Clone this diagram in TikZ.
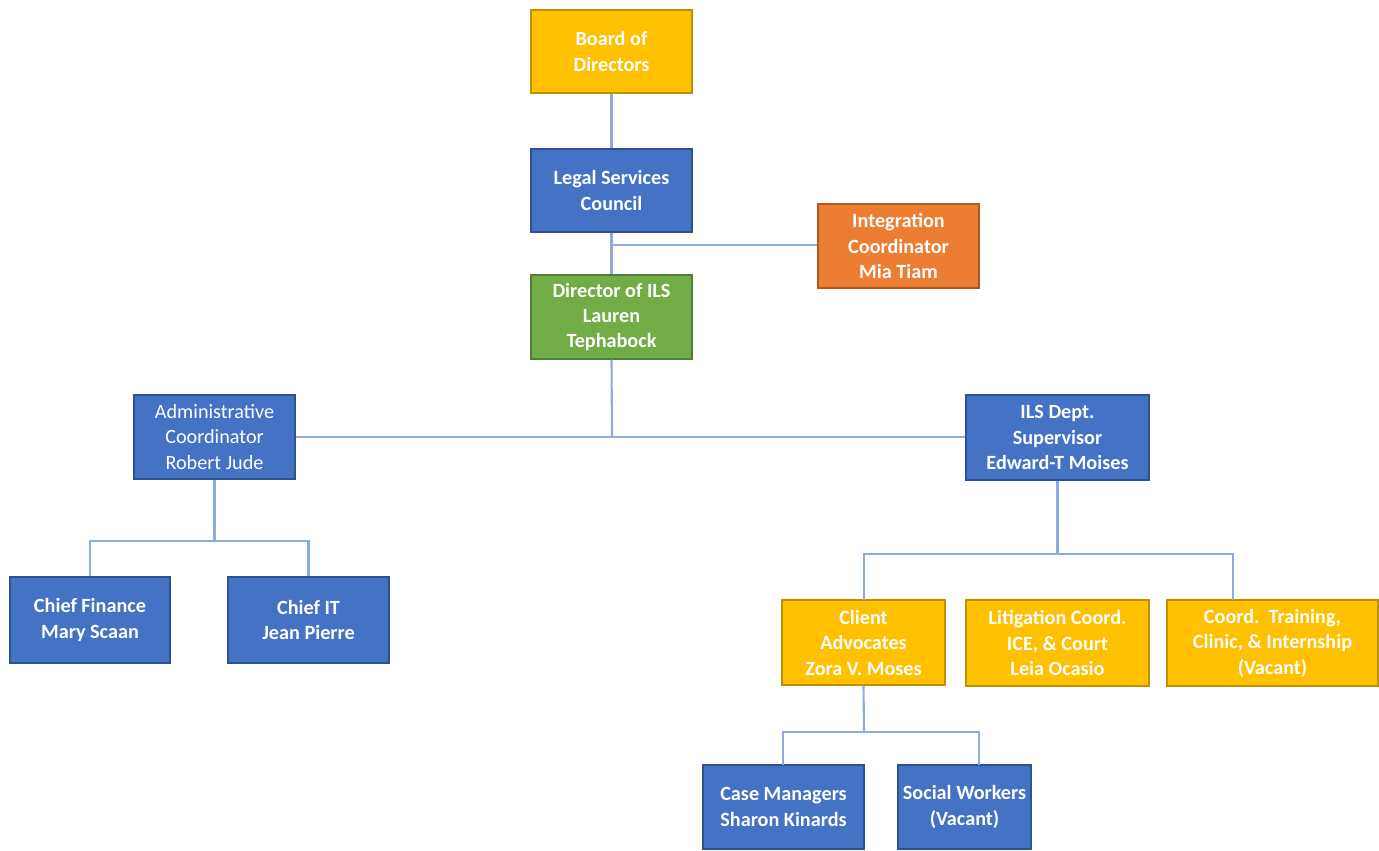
\documentclass[tikz,border=0pt]{standalone}
\usepackage{fontspec}
\setmainfont{Carlito}
\definecolor{cblue}{HTML}{4472C4}
\definecolor{cblueb}{HTML}{2F528F}
\definecolor{cgold}{HTML}{FFC000}
\definecolor{cgoldb}{HTML}{BF9000}
\definecolor{corange}{HTML}{ED7D31}
\definecolor{corangeb}{HTML}{AE5A21}
\definecolor{cgreen}{HTML}{70AD47}
\definecolor{cgreenb}{HTML}{507E32}
\definecolor{cline}{HTML}{8FAADC}
\begin{document}
\begin{tikzpicture}[x=0.02cm,y=-0.02cm,
  box/.style={draw, line width=0.8pt, text=white, align=center, inner sep=0pt,
    font=\fontsize{11.5}{14.5}\selectfont\bfseries},
  bluebox/.style={box, fill=cblue, draw=cblueb},
  goldbox/.style={box, fill=cgold, draw=cgoldb},
  orangebox/.style={box, fill=corange, draw=corangeb},
  greenbox/.style={box, fill=cgreen, draw=cgreenb},
  link/.style={draw=cline, line width=1.2pt}]
\useasboundingbox (0,0) rectangle (1379,850);
\newcommand{\bx}[6]{\node[#1, minimum width={(#4-#3)*0.02cm}, minimum height={(#6-#5)*0.02cm}] (#2) at ({(#3+#4)/2},{(#5+#6)/2})}
\bx{goldbox}{board}{531}{692}{10}{93} {Board of\\Directors};
\bx{bluebox}{lsc}{531}{692}{149}{232} {Legal Services\\Council};
\bx{orangebox}{integ}{818}{979}{204}{288} {Integration\\Coordinator\\Mia Tiam};
\bx{greenbox}{dir}{531}{692}{275}{359} {Director of ILS\\Lauren\\Tephabock};
\bx{bluebox,font=\fontsize{11.5}{14.5}\selectfont}{admin}{134}{295}{395}{479} {Administrative\\Coordinator\\Robert Jude};
\bx{bluebox}{ils}{966}{1149}{395}{480} {ILS Dept.\\Supervisor\\Edward-T Moises};
\bx{bluebox}{fin}{10}{170}{577}{663} {Chief Finance\\Mary Scaan};
\bx{bluebox}{it}{228}{389}{577}{663} {Chief IT\\Jean Pierre};
\bx{goldbox}{client}{782}{945}{600}{685} {Client\\Advocates\\Zora V. Moses};
\bx{goldbox}{litig}{966}{1149}{600}{686} {Litigation Coord.\\ICE, \& Court\\Leia Ocasio};
\bx{goldbox}{train}{1167}{1378}{600}{686} {Coord.\ \ Training,\\Clinic, \& Internship\\(Vacant)};
\bx{bluebox}{case}{703}{864}{765}{849} {Case Managers\\Sharon Kinards};
\bx{bluebox}{social}{898}{1031}{765}{849} {Social Workers\\(Vacant)};
% junction coordinates
\coordinate (j1) at (612,245);
\coordinate (j2) at (612,437);
\coordinate (j3) at (215,541);
\coordinate (j4) at (1060,554);
\coordinate (j5) at (864,732);
\draw[link] (board.south) -- (lsc.north);
\draw[link] (lsc.south) -- (dir.north);
\draw[link] (j1) -- (integ.west |- j1);
\draw[link] (dir.south) -- (j2);
\draw[link] (admin.east) -- (ils.west |- admin.east);
\draw[link] (admin.south) -- (admin.south |- j3);
\draw[link] (fin.north) -- (fin.north |- j3) -- (it.north |- j3) -- (it.north);
\draw[link] (ils.south) -- (ils.south |- j4);
\draw[link] (864,600) -- (864,554) -- (1233,554) -- (1233,600);
\draw[link] (client.south) -- (j5);
\draw[link] (783,765) -- (783,732) -- (979,732) -- (979,765);
\end{tikzpicture}
\end{document}
